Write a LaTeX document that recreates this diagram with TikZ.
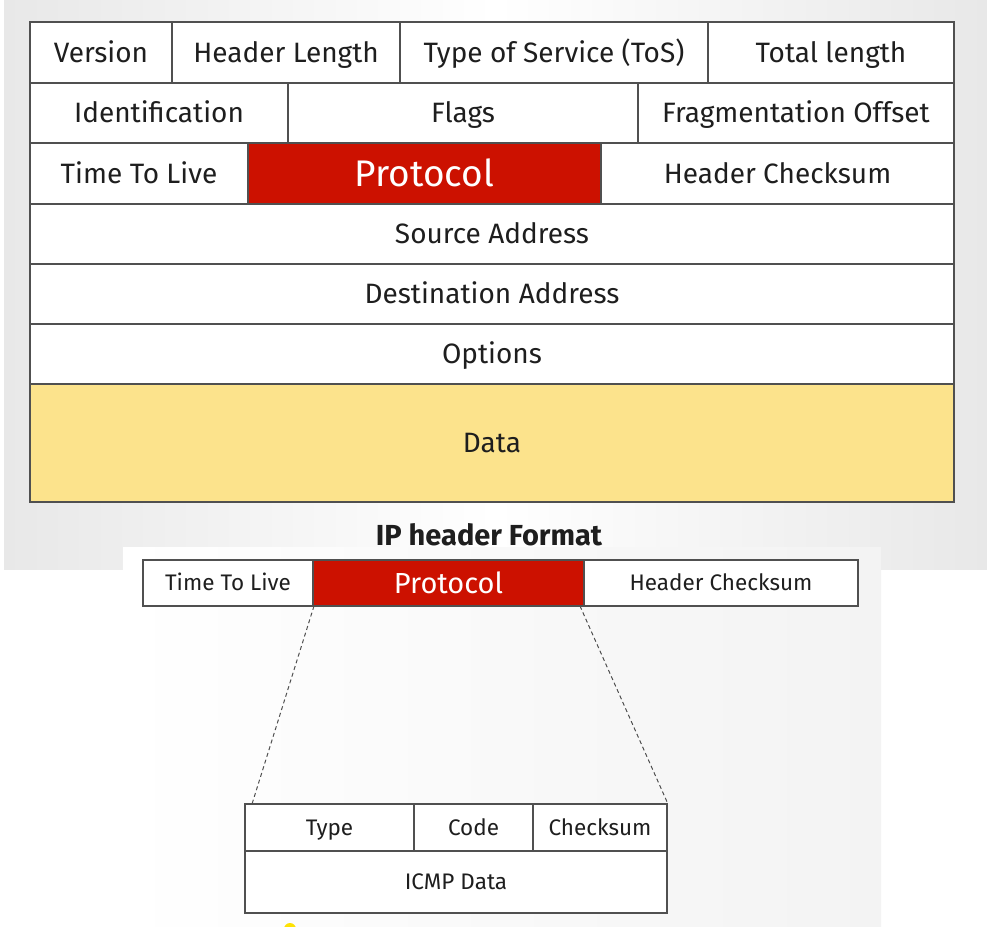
\documentclass[tikz,border=0pt]{standalone}
\usepackage{fontspec}
\setmainfont{Fira Sans}
\definecolor{gridline}{HTML}{505050}
\definecolor{protored}{HTML}{CC1100}
\definecolor{datayellow}{HTML}{FCE38C}
\definecolor{inktext}{HTML}{1E1E1E}
\definecolor{edgegray}{HTML}{E8E8E8}
\definecolor{panelgray}{HTML}{F3F3F3}

% A rectangular field given by its corners: [options]{name}{x1}{y1}{x2}{y2}{text}
\newcommand\fieldcell[7][]{%
  \pgfmathsetmacro\fcx{(#3+#5)/2}%
  \pgfmathsetmacro\fcy{(#4+#6)/2}%
  \pgfmathsetmacro\fcw{#5-#3}%
  \pgfmathsetmacro\fch{#6-#4}%
  \node[cell,#1,minimum width=\fcw pt,minimum height=\fch pt] (#2) at (\fcx,\fcy) {#7};}

\begin{document}
\begin{tikzpicture}[x=1pt,y=-1pt,
  cell/.style={draw=gridline,line width=1.3pt,fill=white,inner sep=0pt,outer sep=0pt,
    text=inktext,text height=19.3pt,text depth=0pt,font=\fontsize{28}{32}\selectfont},
  small/.style={line width=1.1pt,text height=15.5pt,font=\fontsize{22.5}{26}\selectfont},
  proto/.style={fill=protored,text=white},
  dashline/.style={draw=gridline,line width=1pt,dash pattern=on 4pt off 3pt}]
\useasboundingbox (0,0) rectangle (987,926);
\fill[white] (0,0) rectangle (987,926);

% slide backgrounds
\shade[left color=edgegray,right color=edgegray,middle color=white] (4,0) rectangle (987,569);
\shade[left color=white,right color=panelgray] (123,547) rectangle (881,926);

% IP header
\fieldcell{ver}{30}{22}{172}{83}{Version}
\fieldcell{hl}{172}{22}{400}{83}{Header Length}
\fieldcell{tos}{400}{22}{708}{83}{Type of Service (ToS)}
\fieldcell{tl}{708}{22}{954}{83}{Total length}
\fieldcell{id}{30}{83}{288}{143}{Identification}
\fieldcell{fl}{288}{83}{638}{143}{Flags}
\fieldcell{fo}{638}{83}{954}{143}{Fragmentation Offset}
\fieldcell{ttl}{30}{143}{248}{204}{Time To Live}
\fieldcell[proto,text height=25.5pt,font=\fontsize{37}{42}\selectfont]{pr}{248}{143}{601}{204}{Protocol}
\fieldcell{hc}{601}{143}{954}{204}{Header Checksum}
\fieldcell{src}{30}{204}{954}{264}{Source Address}
\fieldcell{dst}{30}{264}{954}{324}{Destination Address}
\fieldcell{opt}{30}{324}{954}{384}{Options}
\fieldcell[fill=datayellow]{dat}{30}{384}{954}{502}{Data}

\node[text=inktext,font=\bfseries\fontsize{29}{34}\selectfont] (title) at (489,535) {IP header Format};

% third row, enlarged
\fieldcell[small]{ttl2}{143}{560}{313}{606}{Time To Live}
\fieldcell[small,proto,text height=20pt,font=\fontsize{29}{34}\selectfont]{pr2}{313}{560}{584}{606}{Protocol}
\fieldcell[small]{hc2}{584}{560}{858}{606}{Header Checksum}

% ICMP message
\fieldcell[small]{ty}{245}{804}{414}{851}{Type}
\fieldcell[small]{cd}{414}{804}{533}{851}{Code}
\fieldcell[small]{ck}{533}{804}{667}{851}{Checksum}
\fieldcell[small]{idat}{245}{851}{667}{913}{ICMP Data}

% zoom lines from the protocol field to the ICMP message
\draw[dashline] ([xshift=1pt]pr2.south west) -- ([xshift=7pt]ty.north west);
\draw[dashline] ([xshift=-4pt]pr2.south east) -- ([xshift=1pt]ck.north east);

% pointer highlight at the lower edge
\begin{scope}
\clip (0,0) rectangle (987,926);
\fill[yellow!85!orange] (290,929) circle (6);
\end{scope}
\end{tikzpicture}
\end{document}
